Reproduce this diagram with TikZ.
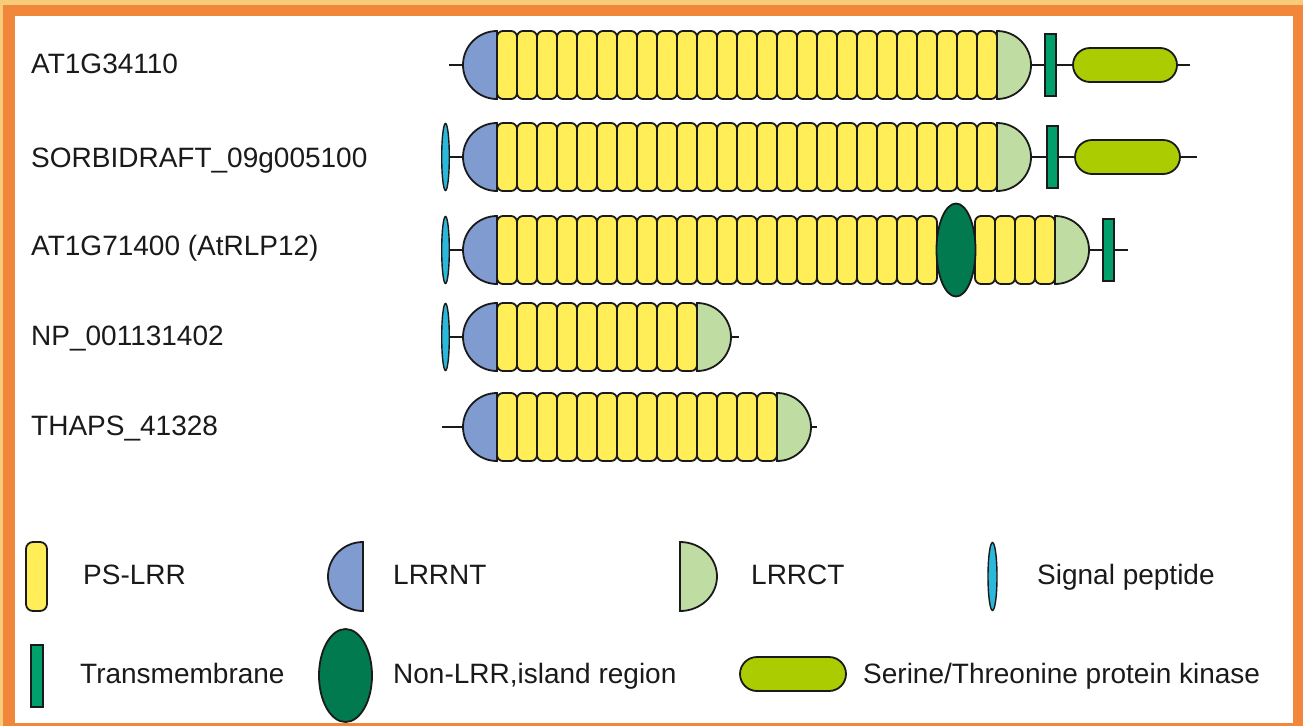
\documentclass[tikz,border=0pt]{standalone}
\usepackage{fontspec}
\setmainfont{Liberation Sans}
\definecolor{lrryellow}{HTML}{FFEE58}
\definecolor{ntblue}{HTML}{7F9BD0}
\definecolor{ctgreen}{HTML}{BFDDA3}
\definecolor{sigcyan}{HTML}{2BB8DA}
\definecolor{tmgreen}{HTML}{00A06C}
\definecolor{islgreen}{HTML}{007A4E}
\definecolor{kinlime}{HTML}{AACC00}
\definecolor{frameor}{HTML}{F0873A}
\definecolor{framelt}{HTML}{F8CB78}
\definecolor{inkk}{HTML}{1A1A1A}
\newcommand\unitsat[3]{\foreach \k in {1,...,#3}{\draw[lrr] ({#1+20*(\k-1)},{-(#2-34)}) rectangle ++(20,-68);}}
\newcommand\ntat[2]{\draw[nt] (#1,{-(#2-34)}) arc[start angle=90,end angle=270,radius=34] -- cycle;}
\newcommand\ctat[2]{\draw[ct] (#1,{-(#2-34)}) arc[start angle=90,end angle=-90,radius=34] -- cycle;}
\newcommand\sigat[2]{\draw[sig] (#1,-#2) ellipse[x radius=3.8,y radius=33.5];}
\begin{document}
\begin{tikzpicture}[x=1pt,y=1pt,
  outl/.style={draw=inkk, line width=1.8pt},
  lrr/.style={outl, fill=lrryellow, rounded corners=6pt},
  nt/.style={outl, fill=ntblue},
  ct/.style={outl, fill=ctgreen},
  sig/.style={outl, line width=1.4pt, fill=sigcyan},
  tm/.style={outl, fill=tmgreen},
  isl/.style={outl, fill=islgreen},
  kin/.style={outl, fill=kinlime, rounded corners=17pt},
  bb/.style={draw=inkk, line width=1.8pt},
  lab/.style={anchor=base west, inner sep=0pt, font=\fontsize{28}{32}\selectfont, text=inkk}]
% frame
\fill[framelt] (0,0) rectangle (1303,-726);
\fill[frameor] (3,-5) rectangle (1303,-726);
\fill[white] (15,-16) rectangle (1293,-723);
\useasboundingbox (0,0) rectangle (1303,-726);
% labels
\node[lab] (l1) at (31,-73) {AT1G34110};
\node[lab] (l2) at (31,-167) {SORBIDRAFT\_09g005100};
\node[lab] (l3) at (31,-255) {AT1G71400 (AtRLP12)};
\node[lab] (l4) at (31,-345) {NP\_001131402};
\node[lab] (l5) at (31,-435) {THAPS\_41328};
% row 1
\draw[bb] (449,-65) -- (1190,-65);
\ntat{497}{65}
\unitsat{497}{65}{25}
\ctat{997}{65}
\draw[tm] (1045,-34) rectangle (1056,-96);
\draw[kin] (1073,-48) rectangle (1177,-82);
% row 2
\draw[bb] (446,-157) -- (1197,-157);
\sigat{445.5}{157}
\ntat{497}{157}
\unitsat{497}{157}{25}
\ctat{997}{157}
\draw[tm] (1047,-126) rectangle (1058,-188);
\draw[kin] (1075,-140) rectangle (1180,-174);
% row 3
\draw[bb] (446,-250) -- (1128,-250);
\sigat{445.5}{250}
\ntat{497}{250}
\unitsat{497}{250}{22}
\unitsat{975}{250}{4}
\draw[isl] (956,-250) ellipse[x radius=19.5,y radius=46.5];
\ctat{1055}{250}
\draw[tm] (1103,-219) rectangle (1114,-281);
% row 4
\draw[bb] (446,-337) -- (739,-337);
\sigat{445.5}{337}
\ntat{497}{337}
\unitsat{497}{337}{10}
\ctat{697}{337}
% row 5
\draw[bb] (442,-427) -- (817,-427);
\ntat{497}{427}
\unitsat{497}{427}{14}
\ctat{777}{427}
% legend
\draw[lrr, rounded corners=7pt] (26,-542) rectangle (47,-611);
\draw[nt] (363,-542) arc[start angle=90,end angle=270,x radius=35,y radius=34.5] -- cycle;
\draw[ct] (680,-542) arc[start angle=90,end angle=-90,x radius=37,y radius=34.5] -- cycle;
\draw[sig] (992.5,-576.5) ellipse[x radius=4.5,y radius=34];
\draw[tm] (31,-645) rectangle (43,-707);
\draw[isl] (345.5,-675.5) ellipse[x radius=26.5,y radius=46.5];
\draw[kin] (740,-657) rectangle (846,-691);
\node[lab] (g1) at (83,-584) {PS-LRR};
\node[lab] (g2) at (393,-584) {LRRNT};
\node[lab] (g3) at (751,-584) {LRRCT};
\node[lab] (g4) at (1037,-584) {Signal peptide};
\node[lab] (g5) at (80,-683) {Transmembrane};
\node[lab] (g6) at (393,-683) {Non-LRR,island region};
\node[lab] (g7) at (863,-683) {Serine/Threonine protein kinase};
\end{tikzpicture}
\end{document}
